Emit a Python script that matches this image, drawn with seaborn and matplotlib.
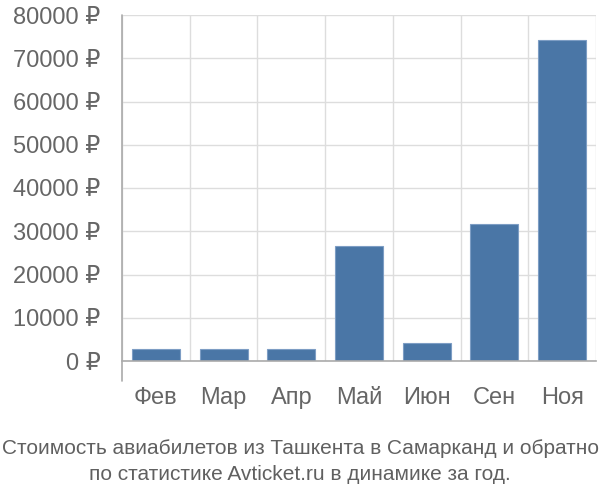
import matplotlib
matplotlib.use("Agg")
import matplotlib.pyplot as plt
import seaborn as sns
import pandas as pd
import numpy as np

months = ["Фев", "Мар", "Апр", "Май", "Июн", "Сен", "Ноя"]
prices = [2700, 2750, 2700, 26600, 4100, 31750, 74300]
y_ticks = [0, 10000, 20000, 30000, 40000, 50000, 60000, 70000, 80000]
title_lines = ["Стоимость авиабилетов из Ташкента в Самарканд и обратно",
               "по статистике Avticket.ru в динамике за год."]

sns.set_style("white")
plt.rcParams['font.family'] = ['Liberation Sans', 'DejaVu Sans']

df = pd.DataFrame({"month": months, "price": prices})

fig = plt.figure(figsize=(6, 5), dpi=100)
ax = fig.add_axes([122/600, 1-361/500, 474/600, 346/500])

sns.barplot(data=df, x="month", y="price", color="#4a76a6", width=0.71,
            edgecolor="#7d9dc4", linewidth=0.8, saturation=1, ax=ax, zorder=3)

ax.set_xlim(-0.5, len(months) - 0.5)
ax.set_ylim(0, 80000)
ax.set_yticks(y_ticks)
ax.set_yticklabels([f"{v} ₽" for v in y_ticks])
ax.set_xlabel("")
ax.set_ylabel("")

tick_col = "#666666"
grid_col = "#dddddd"
ax.tick_params(axis="y", length=14.4, width=1, color=grid_col, labelsize=17,
               labelcolor=tick_col, pad=1)
ax.tick_params(axis="x", which="major", length=0, labelsize=17,
               labelcolor=tick_col, pad=19)
ax.set_xticks(np.arange(-0.5, len(months), 1.0), minor=True)
ax.tick_params(axis="x", which="minor", length=14.4, width=1, color=grid_col)
ax.grid(axis="y", color=grid_col, linewidth=1, zorder=0)
ax.grid(axis="x", which="minor", color=grid_col, linewidth=1, zorder=0)
ax.set_axisbelow(True)

for s in ["top", "right"]:
    ax.spines[s].set_visible(False)
ax.spines["bottom"].set_color("#aaaaaa")
ax.spines["bottom"].set_linewidth(1.2)
ax.spines["bottom"].set_zorder(4)
ax.spines["left"].set_visible(False)
ax.axvline(-0.5, ymin=-20/346, ymax=1, color="#aaaaaa", linewidth=1.2,
           clip_on=False, zorder=4)

fig.text(0.5, 1-448/500, title_lines[0], ha="center", va="center",
         fontsize=15, color="#606060")
fig.text(0.5, 1-474/500, title_lines[1], ha="center", va="center",
         fontsize=15, color="#606060")

fig.savefig("out.png", dpi=100)
